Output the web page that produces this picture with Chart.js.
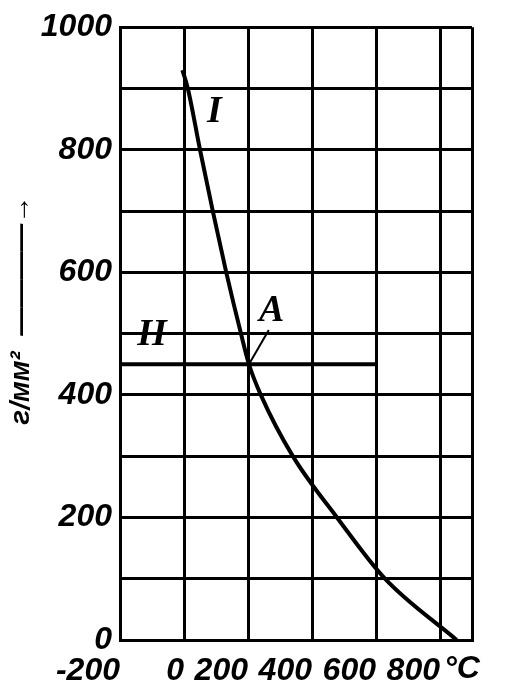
<!DOCTYPE html>
<html>
<head>
<meta charset="utf-8">
<script src="https://cdn.jsdelivr.net/npm/chart.js@4.4.0/dist/chart.umd.min.js"></script>
<style>
  html, body { margin: 0; padding: 0; background: #fff; }
  #wrap { width: 512px; height: 692px; }
</style>
</head>
<body>
<div id="wrap"><canvas id="chart" width="512" height="692"></canvas></div>
<script>
// Curve I (temperature °C -> stress)
const curveTemp = [-5, 12, 50, 90, 132, 178, 203, 240, 340, 478, 628, 852];
const curveStress = [930, 900, 800, 700, 600, 500, 450, 400, 300, 200, 100, 0];

// Line II
const lineTemp = [-200, 600];
const lineStress = [450, 450];

// short leader from the "A" label down to the crossing point
const leaderTemp = [265, 203];
const leaderStress = [506, 450];

// axis ticks and labels
const xGrid = [-200, 0, 200, 400, 600, 800, 900];
const xLabels = [-200, 0, 200, 400, 600, 800];
const yLabels = [0, 200, 400, 600, 800, 1000];
const xUnit = '°C';
const yTitle = '      г/мм²  ————→';

// curve marks
const markTexts = ['I', 'II', 'A'];
const markTemp = [95, -100, 274];
const markStress = [862, 497, 537];

const FONT = "'Liberation Sans', Arial, sans-serif";
const toPoints = (xs, ys) => xs.map((v, i) => ({ x: v, y: ys[i] }));

// draws the I / II / A marks and the °C unit
const marksPlugin = {
    id: 'marks',
    afterDraw(chart) {
        const { ctx, scales: { x, y } } = chart;
        ctx.save();
        ctx.fillStyle = '#000';
        ctx.textAlign = 'center';
        ctx.textBaseline = 'middle';
        ctx.font = 'italic bold 38px "Liberation Serif", serif';
        markTexts.forEach((t, i) => {
            ctx.fillText(t, x.getPixelForValue(markTemp[i]), y.getPixelForValue(markStress[i]));
        });
        ctx.font = 'italic bold 32px ' + FONT;
        ctx.textAlign = 'left';
        ctx.fillText(xUnit, x.getPixelForValue(800) + 4, x.top + 12 + 17);
        ctx.restore();
    }
};

new Chart(document.getElementById('chart').getContext('2d'), {
    type: 'scatter',
    data: {
        datasets: [
            {
                data: toPoints(curveTemp, curveStress),
                showLine: true,
                borderColor: '#000',
                borderWidth: 4,
                pointRadius: 0,
                cubicInterpolationMode: 'monotone'
            },
            {
                data: toPoints(lineTemp, lineStress),
                showLine: true,
                borderColor: '#000',
                borderWidth: 4,
                pointRadius: 0
            },
            {
                data: toPoints(leaderTemp, leaderStress),
                showLine: true,
                borderColor: '#000',
                borderWidth: 2,
                pointRadius: 0
            }
        ]
    },
    options: {
        responsive: false,
        animation: false,
        layout: { padding: { top: 17, right: 40, left: 4, bottom: 0 } },
        plugins: {
            legend: { display: false },
            tooltip: { enabled: false }
        },
        scales: {
            x: {
                type: 'linear',
                min: -200,
                max: 900,
                afterFit: function(scale) { scale.height = 52; },
                afterBuildTicks: function(scale) {
                    scale.ticks = xGrid.map(v => ({ value: v }));
                },
                ticks: {
                    align: 'end',
                    autoSkip: false,
                    padding: 12,
                    color: '#000',
                    maxRotation: 0,
                    font: { family: FONT, size: 32, style: 'italic', weight: 'bold' },
                    callback: function(value) {
                        return xLabels.includes(value) ? String(value) : '';
                    }
                },
                grid: { color: '#000', lineWidth: 3, drawTicks: false },
                border: { color: '#000', width: 3 }
            },
            y: {
                min: 0,
                max: 1000,
                afterFit: function(scale) { scale.width = 116; },
                title: {
                    display: true,
                    text: yTitle,
                    color: '#000',
                    font: { family: FONT, size: 28, style: 'italic', weight: 'bold' },
                    padding: { top: 0, bottom: 0 }
                },
                ticks: {
                    stepSize: 100,
                    autoSkip: false,
                    padding: 8,
                    color: '#000',
                    font: { family: FONT, size: 32, style: 'italic', weight: 'bold' },
                    callback: function(value) {
                        return yLabels.includes(value) ? String(value) : '';
                    }
                },
                grid: { color: '#000', lineWidth: 3, drawTicks: false },
                border: { color: '#000', width: 3 }
            }
        }
    },
    plugins: [marksPlugin]
});
</script>
</body>
</html>
